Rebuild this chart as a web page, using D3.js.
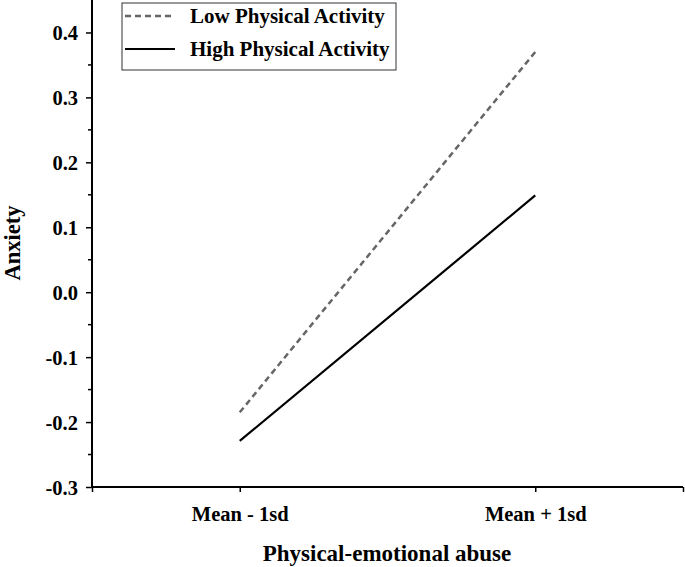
<!DOCTYPE html>
<html><head><meta charset="utf-8">
<script src="https://cdn.jsdelivr.net/npm/d3@7"></script>
<style>body{margin:0;background:#fff}text{font-family:"Liberation Serif","Times New Roman",serif;font-weight:bold}</style>
</head><body><svg id="c" width="685" height="567"></svg>
<script>
const categories = ["Mean - 1sd", "Mean + 1sd"];
const seriesNames = ["Low Physical Activity", "High Physical Activity"];
const lowValues = [-0.185, 0.37];
const highValues = [-0.229, 0.149];
const yTicks = [-0.3, -0.2, -0.1, 0.0, 0.1, 0.2, 0.3, 0.4];

const svg = d3.select("#c");
const x = d3.scaleLinear().domain([0.5, 2.5]).range([92, 683]);
const y = d3.scaleLinear().domain([-0.3, 0.45]).range([487, 0]);

// minor y ticks
const minor = d3.range(-0.25, 0.45, 0.1);
svg.append("g").selectAll("line").data(minor).join("line")
  .attr("x1", 88).attr("x2", 92).attr("y1", d => y(d)).attr("y2", d => y(d))
  .attr("stroke", "#000").attr("stroke-width", 1.5);

const fmt = d => d3.format(".1f")(d).replace("\u2212", "-");
const yAxis = svg.append("g").attr("transform", "translate(92,0)")
  .call(d3.axisLeft(y).tickValues(yTicks).tickFormat(fmt).tickSize(6).tickPadding(8));
yAxis.select(".domain").attr("stroke-width", 2).attr("d", "M0,487V0");
yAxis.selectAll(".tick line").attr("stroke-width", 1.5);
yAxis.selectAll("text").attr("font-size", 20.5).attr("fill", "#000").attr("dy", "0.35em");

const xAxis = svg.append("g").attr("transform", "translate(0,487)")
  .call(d3.axisBottom(x).tickValues([0.5, 1, 2, 2.5]).tickFormat(d => (d === 1 ? categories[0] : d === 2 ? categories[1] : "")).tickSize(5).tickPadding(14));
xAxis.select(".domain").attr("stroke-width", 2).attr("d", "M92,0H683");
xAxis.selectAll(".tick line").attr("stroke-width", 1.5);
xAxis.selectAll("text").attr("font-size", 20.5).attr("fill", "#000");

const line = d3.line().x((d, i) => x(i + 1)).y(d => y(d));
svg.append("path").datum(lowValues).attr("d", line).attr("fill", "none")
  .attr("stroke", "#666").attr("stroke-width", 2.5).attr("stroke-dasharray", "6,4");
svg.append("path").datum(highValues).attr("d", line).attr("fill", "none")
  .attr("stroke", "#000").attr("stroke-width", 2.2);

// legend
const lg = svg.append("g");
lg.append("rect").attr("x", 122).attr("y", 3).attr("width", 274).attr("height", 67)
  .attr("fill", "#fff").attr("stroke", "#333").attr("stroke-width", 1);
[0, 1].forEach(i => {
  const yy = 16 + i * 33;
  lg.append("line").attr("x1", 125).attr("x2", 175).attr("y1", yy).attr("y2", yy)
    .attr("stroke", i === 0 ? "#666" : "#000").attr("stroke-width", i === 0 ? 2.5 : 2.2)
    .attr("stroke-dasharray", i === 0 ? "6,4" : null);
  lg.append("text").attr("x", 190).attr("y", yy + 7).attr("font-size", 21).text(seriesNames[i]);
});

svg.append("text").attr("transform", "translate(20,243) rotate(-90)").attr("text-anchor", "middle")
  .attr("font-size", 22.5).text("Anxiety");
svg.append("text").attr("x", 387).attr("y", 561).attr("text-anchor", "middle")
  .attr("font-size", 23).text("Physical-emotional abuse");
</script></body></html>
